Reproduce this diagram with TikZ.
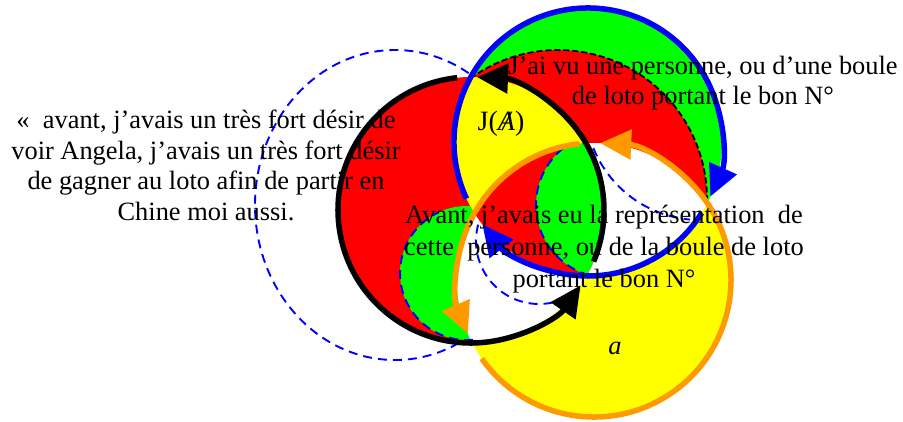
\documentclass[tikz,border=0pt]{standalone}
\usepackage{fontspec}
\setmainfont{Liberation Serif}
\usetikzlibrary{arrows.meta,calc}
\definecolor{ringred}{RGB}{255,0,0}
\definecolor{ringgreen}{RGB}{0,255,0}
\definecolor{ringyellow}{RGB}{255,255,0}
\definecolor{ringblue}{RGB}{0,0,255}
\definecolor{ringorange}{RGB}{255,153,0}
\tikzset{
  ringarrow/.style={line width=5.5pt, -{Triangle[length=31pt,width=29pt]}},
  bluedash/.style={ringblue, line width=1.9pt, dash pattern=on 9pt off 6pt},
  blackdash/.style={black, line width=1.8pt, dash pattern=on 6pt off 3pt},
  bigtext/.style={align=center, inner sep=0pt}
}
\begin{document}
\begin{tikzpicture}[x=1pt,y=-1pt]
  \useasboundingbox (0,0) rectangle (903,421);
  % centres of the rings and of the dashed circles
  \coordinate (K) at (471,210); \def\rK{133}
  \coordinate (B) at (588,142); \def\rB{134}
  \coordinate (O) at (594,280); \def\rO{137}
  \coordinate (D1) at (395,205);
  \coordinate (D2) at (558,199);
  \coordinate (D4) at (467,273);
  \coordinate (D5) at (609,205);
  \coordinate (D6) at (539,241);
  \coordinate (D7) at (700,105);

  % Big dashed ellipse on the left
  \draw[bluedash] (D1) ellipse [x radius=140, y radius=155];

  % Fills
  \fill[ringred] (K) circle (\rK);
  \begin{scope}
    \clip (K) circle (\rK);
    \fill[ringgreen] (D4) circle (67);
  \end{scope}
  \fill[ringgreen] (B) circle (\rB);
  \begin{scope}
    \clip (B) circle (\rB);
    \fill[ringred] (D2) circle (149);
    \clip (K) circle (\rK);
    \fill[ringyellow] (K) circle (\rK);
  \end{scope}
  \fill[ringyellow] (O) circle (\rO);
  \begin{scope}
    \clip (O) circle (\rO);
    \fill[white] (K) circle (\rK);
    \fill[white] (B) circle (\rB);
    \clip (K) circle (\rK);
    \clip (B) circle (\rB);
    \fill[ringred] (B) circle (\rB);
    \fill[ringgreen] (D5) circle (73);
    \draw[bluedash] (D5) circle (73);
  \end{scope}

  % Dashed arcs
  \draw[blackdash] ($(D2)+(234:149)$) arc[start angle=234, end angle=360, radius=149];
  \draw[bluedash] ($(D4)+(85:67)$) arc[start angle=85, end angle=245, radius=67];
  \draw[bluedash] ($(D6)+(195:63)$) arc[start angle=195, end angle=57, radius=63];
  \draw[bluedash] ($(D7)+(158:115)$) arc[start angle=158, end angle=95, radius=115];

  % Blue ring
  \draw[ringarrow, ringblue] ($(B)+(155:\rB)$) arc[start angle=155, end angle=384, radius=\rB];
  \draw[ringarrow, ringblue] ($(B)+(32:\rB)$) arc[start angle=32, end angle=142, radius=\rB];
  % Orange ring
  \draw[ringarrow, ringorange] ($(O)+(145:\rO)$) arc[start angle=145, end angle=-87.4, radius=\rO];
  \draw[ringarrow, ringorange] ($(O)+(264:\rO)$) arc[start angle=264, end angle=157, radius=\rO];
  % Black ring
  \draw[ringarrow, black] ($(K)+(264:\rK)$) arc[start angle=264, end angle=34.5, radius=\rK];
  \draw[ringarrow, black] ($(K)+(22.8:\rK)$) arc[start angle=22.8, end angle=-87.4, radius=\rK];

  % Texts
  \node[bigtext, font=\fontsize{26.4}{30.5}\selectfont] (desir) at (206,165.5)
    {«~~avant, j’avais un très fort désir de\\voir Angela, j’avais un très fort désir\\de gagner au loto afin de partir en\\Chine moi aussi.};
  \node[bigtext, font=\fontsize{26.4}{30}\selectfont] (vu) at (703,83)
    {J’ai vu une personne, ou d’une boule\\de loto portant le bon N°};
  \node[bigtext, font=\fontsize{26.4}{32}\selectfont] (avant) at (604,249)
    {Avant, j’avais eu la représentation~~de\\cette~~personne, ou de la boule de loto\\portant le bon N°};
  \node[inner sep=0pt, anchor=base, font=\fontsize{28}{32}\selectfont] (JA) at (501,130)
    {J(\textit{A\kern-0.445em/\kern0.167em})};
  \node[inner sep=0pt, anchor=base, font=\fontsize{26.4}{30}\selectfont] (a) at (615,354) {\textit{a}};
\end{tikzpicture}
\end{document}
